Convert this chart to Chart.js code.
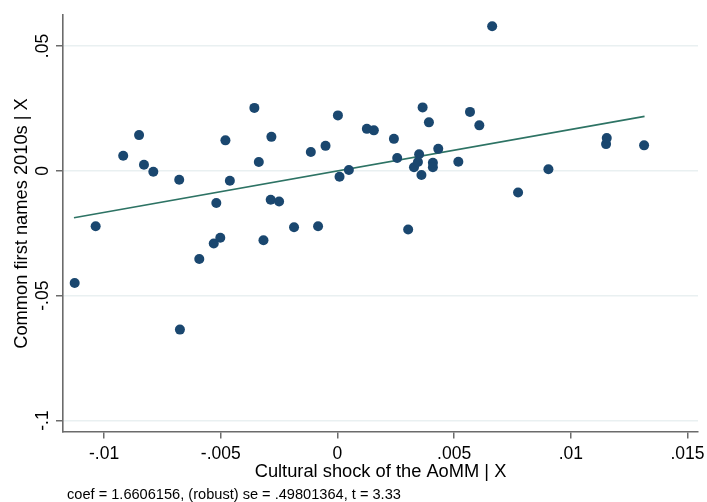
<!DOCTYPE html>
<html>
<head>
<meta charset="utf-8">
<script src="https://cdn.jsdelivr.net/npm/chart.js@4.4.1/dist/chart.umd.min.js"></script>
<style>
  html, body { margin: 0; padding: 0; background: #fff; }
  #wrap { width: 707px; height: 502px; }
</style>
</head>
<body>
<div id="wrap"><canvas id="avplot" width="707" height="502"></canvas></div>
<script>
// residualised values
const shockX = [
    -0.01126, -0.01036, -0.00918, -0.00850, -0.00829, -0.00789, -0.00678, -0.00675,
    -0.00592, -0.00530, -0.00519, -0.00502, -0.00480, -0.00461, -0.00356, -0.00337,
    -0.00317, -0.00286, -0.00283, -0.00250, -0.00186, -0.00114, -0.00083, -0.00051,
    0.00002, 0.00009, 0.00049, 0.00126, 0.00156, 0.00242, 0.00256, 0.00303,
    0.00328, 0.00345, 0.00350, 0.00360, 0.00365, 0.00392, 0.00409, 0.00409,
    0.00432, 0.00518, 0.00568, 0.00608, 0.00663, 0.00774, 0.00904, 0.01151,
    0.01154, 0.01314
];
const namesY = [
    -0.0449, -0.0222, 0.0060, 0.0143, 0.0024, -0.0004, -0.0036, -0.0636,
    -0.0353, -0.0291, -0.0129, -0.0268, 0.0122, -0.0040, 0.0252, 0.0035,
    -0.0278, -0.0116, 0.0136, -0.0123, -0.0226, 0.0075, -0.0222, 0.0100,
    0.0222, -0.0024, 0.0003, 0.0168, 0.0162, 0.0128, 0.0051, -0.0235,
    0.0014, 0.0035, 0.0066, -0.0017, 0.0254, 0.0194, 0.0032, 0.0014,
    0.0088, 0.0036, 0.0236, 0.0182, 0.0579, -0.0087, 0.0006, 0.0107,
    0.0131, 0.0102
];
// fitted line endpoints
const fitX = [-0.01129, 0.01316];
const fitY = [-0.0188, 0.0218];

const xTicks = [-0.01, -0.005, 0, 0.005, 0.01, 0.015];
const yTicks = [-0.1, -0.05, 0, 0.05];
const xTitle = 'Cultural shock of the AoMM | X';
const yTitle = 'Common first names 2010s | X';
const footNote = 'coef = 1.6606156, (robust) se = .49801364, t = 3.33';

const FONT = '"Liberation Sans", Arial, sans-serif';
const AXIS_GREY = '#6b6b6b';

function stataFmt(v) {
    return String(v).replace('0.', '.');
}

const labelsPlugin = {
    id: 'stataLabels',
    afterDraw(chart) {
        const ctx = chart.ctx;
        const yScale = chart.scales.y;
        const area = chart.chartArea;
        ctx.save();
        ctx.fillStyle = '#000';

        // rotated y tick labels
        ctx.font = '17.5px ' + FONT;
        ctx.textAlign = 'center';
        ctx.textBaseline = 'middle';
        yTicks.forEach(v => {
            const py = yScale.getPixelForValue(v);
            ctx.save();
            ctx.translate(43, py);
            ctx.rotate(-Math.PI / 2);
            ctx.fillText(stataFmt(v), 0, 0);
            ctx.restore();
        });

        // axis titles
        ctx.font = '18.3px ' + FONT;
        ctx.save();
        ctx.translate(22, (area.top + area.bottom) / 2);
        ctx.rotate(-Math.PI / 2);
        ctx.fillText(yTitle, 0, 0);
        ctx.restore();
        ctx.fillText(xTitle, (area.left + area.right) / 2, 472);

        // note under the graph
        ctx.font = '14.6px ' + FONT;
        ctx.textAlign = 'left';
        ctx.fillText(footNote, 67, 495);
        ctx.restore();
    }
};

const ctx = document.getElementById('avplot').getContext('2d');
new Chart(ctx, {
    type: 'scatter',
    data: {
        datasets: [
            {
                type: 'line',
                data: fitX.map((x, i) => ({ x: x, y: fitY[i] })),
                borderColor: '#2d7364',
                borderWidth: 1.6,
                pointRadius: 0,
                fill: false,
                order: 2
            },
            {
                data: shockX.map((x, i) => ({ x: x, y: namesY[i] })),
                backgroundColor: '#1a476f',
                borderWidth: 0,
                pointRadius: 5,
                pointHoverRadius: 5,
                order: 1
            }
        ]
    },
    options: {
        responsive: false,
        animation: false,
        devicePixelRatio: 1,
        layout: { padding: { top: 15, right: 9, bottom: 0, left: 0 } },
        plugins: {
            legend: { display: false },
            tooltip: { enabled: false }
        },
        scales: {
            x: {
                type: 'linear',
                min: -0.01176,
                max: 0.01545,
                afterBuildTicks: scale => { scale.ticks = xTicks.map(v => ({ value: v })); },
                afterFit: scale => {
                    scale.height = 70;
                    scale.paddingLeft = 0;
                    scale.paddingRight = 0;
                },
                ticks: {
                    callback: v => stataFmt(v),
                    color: '#000',
                    font: { family: FONT, size: 17.5 },
                    padding: 5,
                    maxRotation: 0,
                    minRotation: 0
                },
                grid: {
                    drawOnChartArea: false,
                    drawTicks: true,
                    tickLength: 6.5,
                    tickColor: AXIS_GREY,
                    lineWidth: 1.5
                },
                border: { color: AXIS_GREY, width: 1.6 }
            },
            y: {
                type: 'linear',
                min: -0.1046,
                max: 0.0624,
                afterBuildTicks: scale => { scale.ticks = yTicks.map(v => ({ value: v })); },
                afterFit: scale => {
                    scale.width = 63;
                    scale.paddingTop = 0;
                    scale.paddingBottom = 0;
                },
                ticks: { display: false },
                grid: {
                    color: '#e9f0f1',
                    lineWidth: 1.5,
                    drawTicks: true,
                    tickLength: 7,
                    tickColor: AXIS_GREY
                },
                border: { color: AXIS_GREY, width: 1.6 }
            }
        }
    },
    plugins: [labelsPlugin]
});
</script>
</body>
</html>
